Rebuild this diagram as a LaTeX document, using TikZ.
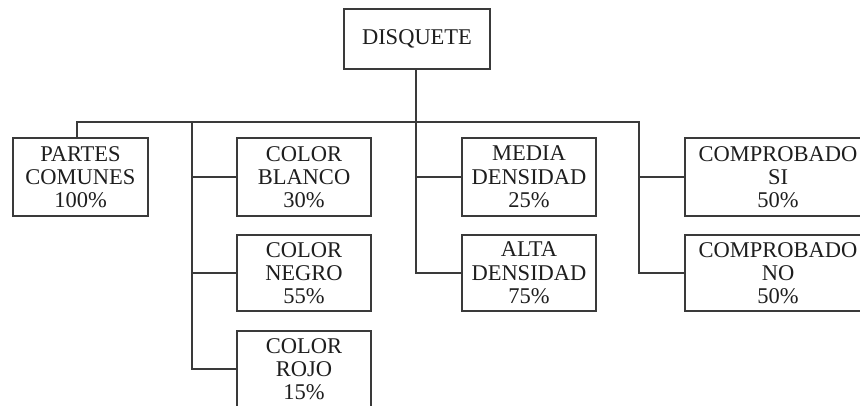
\documentclass[tikz,border=0pt]{standalone}
\usepackage{fontspec}
\setmainfont{Liberation Serif}
\definecolor{ink}{HTML}{1E1E1E}
\definecolor{rule}{HTML}{3A3A3A}
\begin{document}
\begin{tikzpicture}[x=1pt,y=-1pt,
  box/.style={draw=rule, line width=1.3pt, rectangle, inner sep=0pt,
    align=center, text=ink, font=\fontsize{22.5}{23.3}\selectfont},
  link/.style={draw=rule, line width=1.2pt}]
  \useasboundingbox[fill=white] (0,0) rectangle (860,405);

  % root
  \node[box, minimum width=146pt, minimum height=60pt] (disq) at (417,39) {DISQUETE};

  % first level
  \node[box, minimum width=135pt, minimum height=78pt] (partes) at (80.5,177) {PARTES\\COMUNES\\100\%};

  \node[box, minimum width=134pt, minimum height=78pt] (blanco) at (304,177) {COLOR\\BLANCO\\30\%};
  \node[box, minimum width=134pt, minimum height=76pt] (negro) at (304,273) {COLOR\\NEGRO\\55\%};
  \node[box, minimum width=134pt, minimum height=76pt] (rojo) at (304,369) {COLOR\\ROJO\\15\%};

  \node[box, minimum width=134pt, minimum height=78pt] (media) at (529,177) {MEDIA\\DENSIDAD\\25\%};
  \node[box, minimum width=134pt, minimum height=76pt] (alta) at (529,273) {ALTA\\DENSIDAD\\75\%};

  \node[box, minimum width=186pt, minimum height=78pt] (compsi) at (778,177) {COMPROBADO\\SI\\50\%};
  \node[box, minimum width=186pt, minimum height=76pt] (compno) at (778,273) {COMPROBADO\\NO\\50\%};

  % bus and spines
  \coordinate (busL) at (77,122);
  \coordinate (busR) at (639,122);
  \coordinate (spL) at (192,122);
  \coordinate (spM) at (416,122);

  \draw[link] (busL |- partes.north) -- (busL) -- (busR) |- (compno.west);
  \draw[link] (busR |- compsi.west) -- (compsi.west);

  \draw[link] (spL) |- (rojo.west);
  \draw[link] (spL |- blanco.west) -- (blanco.west);
  \draw[link] (spL |- negro.west) -- (negro.west);

  \draw[link] (spM |- disq.south) |- (alta.west);
  \draw[link] (spM |- media.west) -- (media.west);
\end{tikzpicture}
\end{document}
